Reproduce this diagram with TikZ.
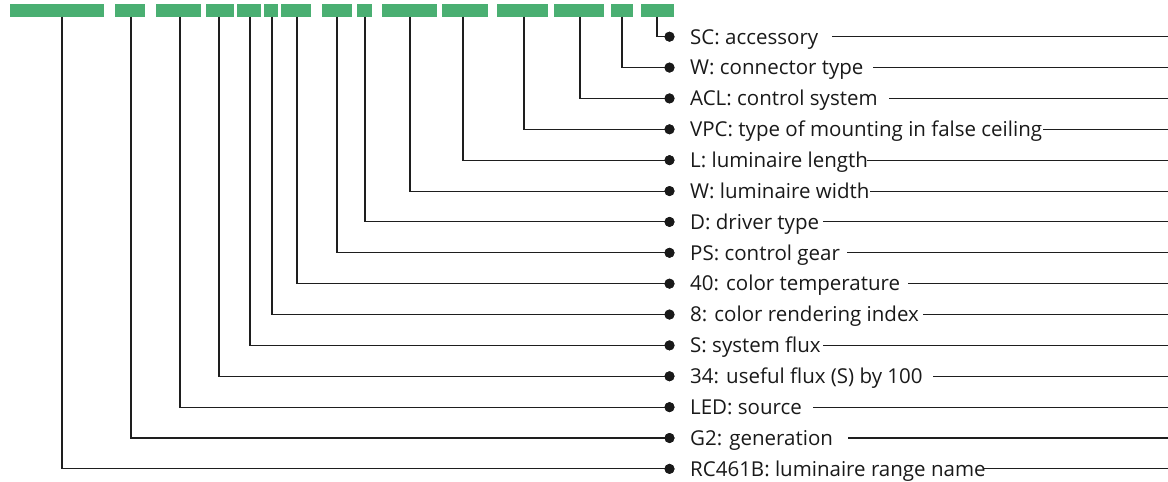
\documentclass[tikz,border=0pt]{standalone}
\usepackage{fontspec}
\setmainfont{Open Sans}
\definecolor{bargreen}{RGB}{74,175,114}
\definecolor{lineclr}{RGB}{30,30,30}
\begin{document}
\begin{tikzpicture}[x=1pt,y=-1pt,
  codebar/.style={fill=bargreen,draw=none},
  conn/.style={draw=lineclr,line width=1.1pt},
  dotmark/.style={circle,fill=black!90,inner sep=0pt,minimum size=10pt},
  lbl/.style={anchor=base west,inner sep=0pt,font=\fontsize{20.5}{22}\selectfont,text=black!90}]
\useasboundingbox (0,0) rectangle (1168,482);
% bars: x1/x2/connector x
\foreach \xa/\xb/\cx [count=\k] in {9.7/104/62,115/145/131,156/201/180,206/234/219,237/261/250,264/278/272,281/311/297,322/352/337,357/372/365,382/437/410,442/488/463,497/548/524,554/604/580,611/633/622,641/674/657}{
  \fill[codebar] (\xa,4) rectangle (\xb,16.7);
  \coordinate (c\k) at (\cx,16.7);
}
% rows
\foreach \txt/\bk/\rs [count=\r from 0] in {
  {SC: accessory}/15/832,
  {W: connector type}/14/873,
  {ACL: control system}/13/889,
  {VPC: type of mounting in false ceiling}/12/1043,
  {L: luminaire length}/11/867,
  {W: luminaire width}/10/870,
  {D: driver type}/9/823,
  {PS: control gear}/8/847,
  {40: color temperature}/7/908,
  {8: color rendering index}/6/923,
  {S: system flux}/5/823,
  {34: useful flux (S) by 100}/4/933,
  {LED: source}/3/813,
  {G2: generation}/2/848,
  {RC461B: luminaire range name}/1/983}{
  \pgfmathsetmacro{\yy}{36.7+30.87*\r}
  \node[dotmark] (d\r) at (669.5,\yy) {};
  \node[lbl] (t\r) at (690,\yy+7.3) {\txt};
  \coordinate (rs\r) at (\rs,\yy);
  \coordinate (re\r) at (1168,\yy);
  \draw[conn] (c\bk) |- (d\r.center);
  \draw[conn] (rs\r) -- (re\r);
  \node[dotmark] at (d\r) {};
}
\end{tikzpicture}
\end{document}
